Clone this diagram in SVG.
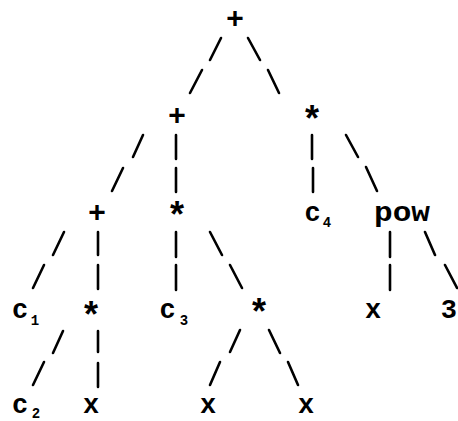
<svg xmlns="http://www.w3.org/2000/svg" width="458" height="421" viewBox="0 0 458 421">
<style>
.t{font-family:"Liberation Mono","DejaVu Sans Mono",monospace;font-weight:bold;fill:#000;text-anchor:middle}
.l{font-size:27px}
.s{font-size:14px}
.o{font-size:30px}
.a{font-size:36px}
.e{stroke:#000;stroke-width:2.6;stroke-linecap:round;fill:none}
</style>
<rect width="458" height="421" fill="#fff"/>
<g id="connectors" class="e">
<path d="M221,38L210,60M202,70L190,93"/>
<path d="M248,38L260,60M268,70L279,93"/>
<path d="M143,135L133,157M123,168L112,191"/>
<path d="M176,135L176,159M176,168L176,192"/>
<path d="M312,135L312,159M313,168L313,192"/>
<path d="M346,135L358,157M366,167L377,191"/>
<path d="M64,232L53,255M44,265L33,288"/>
<path d="M98,232L98,255M98,265L98,289"/>
<path d="M176,232L176,257M176,265L176,290"/>
<path d="M210,232L222,255M230,265L242,288"/>
<path d="M390,232L390,257M390,265L390,290"/>
<path d="M425,232L435,255M445,265L457,288"/>
<path d="M63,331L53,353M44,362L33,385"/>
<path d="M98,331L98,352M98,363L98,387"/>
<path d="M240,330L230,352M220,362L210,385"/>
<path d="M269,330L280,353M288,362L298,385"/>
</g>
<g id="n_root"><text class="t o" x="235" y="28">+</text></g>
<g id="n_plus2"><text class="t o" x="177" y="125">+</text></g>
<g id="n_mul2"><text class="t a" x="312" y="132">*</text></g>
<g id="n_plus3"><text class="t o" x="97" y="222">+</text></g>
<g id="n_mul3"><text class="t a" x="177" y="228">*</text></g>
<g id="n_c4"><text class="t l" x="312.5" y="221">c</text><text class="t s" x="327" y="227">4</text></g>
<g id="n_pow"><text class="t l" x="402" y="221" textLength="56" lengthAdjust="spacingAndGlyphs">pow</text></g>
<g id="n_c1"><text class="t l" x="20" y="318">c</text><text class="t s" x="35" y="325">1</text></g>
<g id="n_mul4"><text class="t a" x="91" y="328">*</text></g>
<g id="n_c3"><text class="t l" x="167.5" y="318">c</text><text class="t s" x="184" y="325">3</text></g>
<g id="n_mul5"><text class="t a" x="259" y="325">*</text></g>
<g id="n_x1"><text class="t l" x="373" y="318">x</text></g>
<g id="n_3"><text class="t l" x="457" y="318" style="text-anchor:end">3</text></g>
<g id="n_c2"><text class="t l" x="20" y="413">c</text><text class="t s" x="36" y="418">2</text></g>
<g id="n_x2"><text class="t l" x="91" y="413">x</text></g>
<g id="n_x3"><text class="t l" x="208" y="413">x</text></g>
<g id="n_x4"><text class="t l" x="306" y="413">x</text></g>
</svg>
